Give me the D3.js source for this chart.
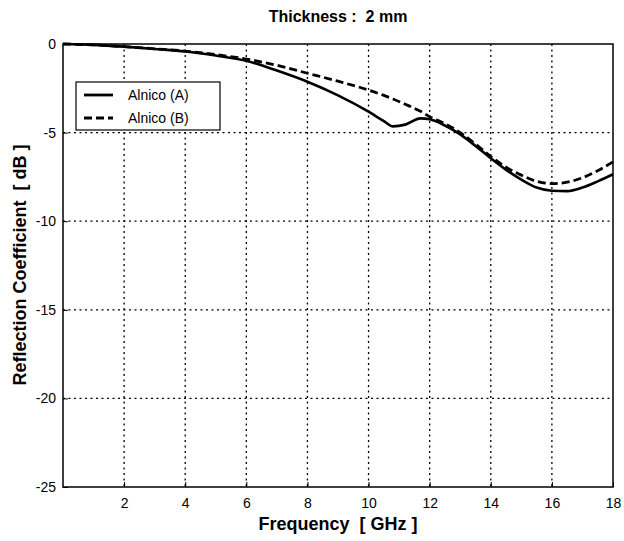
<!DOCTYPE html>
<html><head><meta charset="utf-8">
<script src="https://cdn.jsdelivr.net/npm/d3@7"></script>
<style>
body{margin:0;background:#fff;}
text{font-family:"Liberation Sans",Arial,sans-serif;}
.pre{white-space:pre;}
</style></head>
<body><svg id="c" width="624" height="541"></svg>
<script>
const freq = [0,1,2,3,4,5,6,7,8,9,10,10.5,10.8,11.2,11.7,12,12.5,13,13.5,14,14.5,15,15.5,16,16.5,17,17.5,18];
const alnicoA = [0,-0.05,-0.15,-0.28,-0.42,-0.65,-0.95,-1.5,-2.13,-2.9,-3.82,-4.35,-4.65,-4.55,-4.2,-4.25,-4.6,-5.1,-5.75,-6.45,-7.1,-7.65,-8.1,-8.28,-8.3,-8.1,-7.75,-7.35];
const alnicoB = [0,-0.05,-0.15,-0.27,-0.4,-0.6,-0.85,-1.2,-1.65,-2.1,-2.6,-2.9,-3.1,-3.4,-3.8,-4.1,-4.5,-5.0,-5.65,-6.35,-6.95,-7.4,-7.75,-7.88,-7.8,-7.55,-7.15,-6.65];
const xTicks = [2,4,6,8,10,12,14,16,18];
const yTicks = [0,-5,-10,-15,-20,-25];
const seriesNames = ["Alnico (A)","Alnico (B)"];

const svg = d3.select("#c");
const L=63, R=613, T=44, B=487;
const x = d3.scaleLinear().domain([0,18]).range([L,R]);
const y = d3.scaleLinear().domain([-25,0]).range([B,T]);

// grid
const g = svg.append("g");
g.selectAll(".gx").data(xTicks.filter(d=>d<18)).enter().append("line")
 .attr("x1",d=>x(d)).attr("x2",d=>x(d)).attr("y1",T).attr("y2",B)
 .attr("stroke","#000").attr("stroke-width",1.3).attr("stroke-dasharray","2,3.5");
g.selectAll(".gy").data(yTicks.filter(d=>d>-25 && d<0)).enter().append("line")
 .attr("x1",L).attr("x2",R).attr("y1",d=>y(d)).attr("y2",d=>y(d))
 .attr("stroke","#000").attr("stroke-width",1.3).attr("stroke-dasharray","2,3.5");

// axes
const xAxis = d3.axisBottom(x).tickValues(xTicks).tickSize(-5).tickPadding(11).tickFormat(d3.format("d"));
const yAxis = d3.axisLeft(y).tickValues(yTicks).tickSize(-5).tickPadding(7).tickFormat(d=>String(d).replace("−","-"));
const ax = svg.append("g").attr("transform",`translate(0,${B})`).call(xAxis);
const ay = svg.append("g").attr("transform",`translate(${L},0)`).call(yAxis);
[ax,ay].forEach(a=>{a.select(".domain").remove();a.selectAll("text").attr("font-size",14).attr("fill","#000").style("font-family","'Liberation Sans',Arial,sans-serif");a.selectAll("line").attr("stroke","#000");});

// border
svg.append("rect").attr("x",L).attr("y",T).attr("width",R-L).attr("height",B-T)
 .attr("fill","none").attr("stroke","#000").attr("stroke-width",1.5);

// lines
const line = d3.line().x((d,i)=>x(freq[i])).y(d=>y(d)).curve(d3.curveMonotoneX);
svg.append("path").datum(alnicoA).attr("d",line).attr("fill","none").attr("stroke","#000").attr("stroke-width",2.6);
svg.append("path").datum(alnicoB).attr("d",line).attr("fill","none").attr("stroke","#000").attr("stroke-width",2.8).attr("stroke-dasharray","8,4");

// legend
const lg = svg.append("g");
lg.append("rect").attr("x",76).attr("y",82).attr("width",144).attr("height",48).attr("fill","#fff").attr("stroke","#000").attr("stroke-width",1.2);
[0,1].forEach(i=>{
  const yy = 95 + i*23;
  lg.append("line").attr("x1",84).attr("x2",113).attr("y1",yy).attr("y2",yy).attr("stroke","#000").attr("stroke-width",2.8)
   .attr("stroke-dasharray", i===1?"8,4":null);
  lg.append("text").attr("x",128).attr("y",yy+5).attr("font-size",14).text(seriesNames[i]);
});

// titles
svg.append("text").attr("class","pre").attr("x",338).attr("y",22).attr("text-anchor","middle").attr("font-size",16).attr("font-weight","bold").text("Thickness :  2 mm");
svg.append("text").attr("class","pre").attr("x",338).attr("y",530).attr("text-anchor","middle").attr("font-size",18).attr("font-weight","bold").text("Frequency  [ GHz ]");
svg.append("text").attr("class","pre").attr("transform","translate(26,265) rotate(-90)").attr("text-anchor","middle").attr("font-size",18).attr("font-weight","bold").text("Reflection Coefficient  [ dB ]");
</script></body></html>
